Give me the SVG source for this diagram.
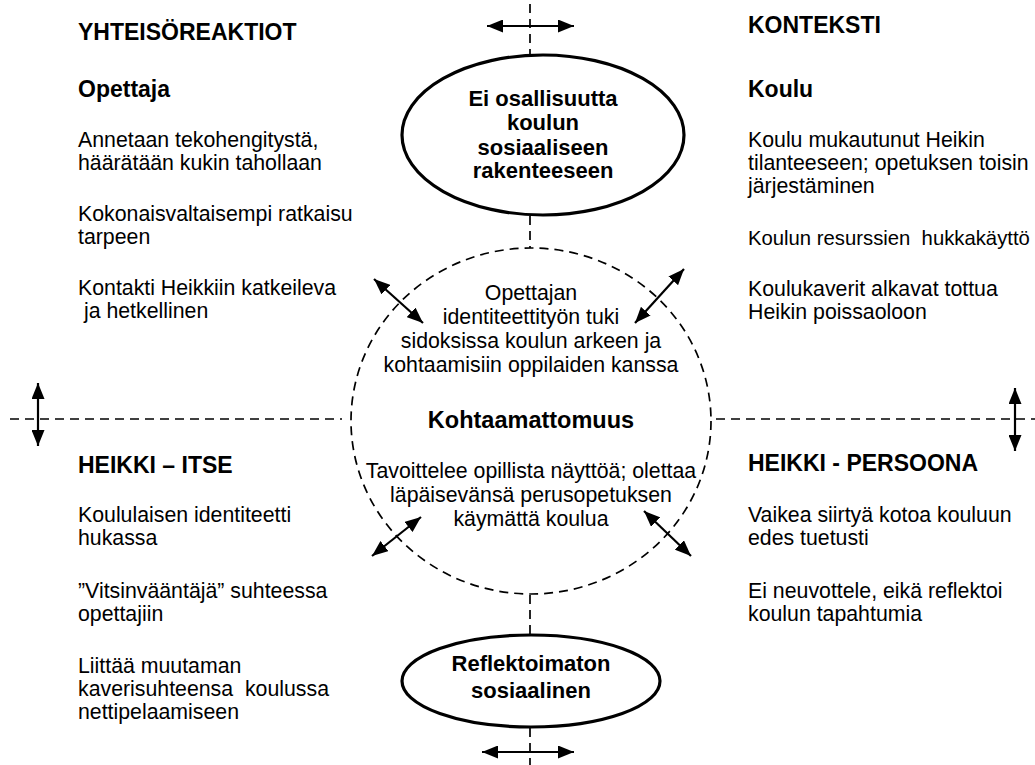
<svg xmlns="http://www.w3.org/2000/svg" width="1035" height="765" viewBox="0 0 1035 765">
<defs>
<marker id="ah" viewBox="0 0 16 13" refX="16" refY="6.5" markerWidth="16" markerHeight="13" markerUnits="userSpaceOnUse" orient="auto-start-reverse">
<path d="M0,0 L16,6.5 L0,13 z" fill="#000"/>
</marker>
<style>
text{font-family:"Liberation Sans",Arial,sans-serif;fill:#000}
.b{font-size:21.3px}
.h{font-size:23px;font-weight:bold}
.c{font-size:21.3px;text-anchor:middle}
.cb{font-size:22px;font-weight:bold;text-anchor:middle}
.dash{fill:none;stroke:#000;stroke-width:1.7;stroke-dasharray:9 6}
.arr{stroke:#000;stroke-width:2.2;fill:none;marker-start:url(#ah);marker-end:url(#ah)}
.ell{fill:#fff;stroke:#000;stroke-width:3.2}
</style>
</defs>
<rect width="1035" height="765" fill="#fff"/>
<g id="connectors">
<line class="dash" x1="530" y1="4" x2="530" y2="55"/>
<line class="dash" x1="530" y1="216" x2="530" y2="248"/>
<line class="dash" x1="530" y1="595" x2="530" y2="635"/>
<line class="dash" x1="530" y1="728" x2="530" y2="765"/>
<line class="dash" x1="10" y1="419" x2="342" y2="419"/>
<line class="dash" x1="716" y1="419" x2="1035" y2="419"/>
<line class="arr" x1="487" y1="26" x2="574" y2="26"/>
<line class="arr" x1="482" y1="752" x2="574" y2="752"/>
<line class="arr" x1="38" y1="383" x2="38" y2="446"/>
<line class="arr" x1="1015" y1="388" x2="1015" y2="451"/>
<line class="arr" x1="374" y1="279" x2="423" y2="323"/>
<line class="arr" x1="684" y1="269" x2="635" y2="323"/>
<line class="arr" x1="421" y1="517" x2="372" y2="556"/>
<line class="arr" x1="644" y1="511" x2="691" y2="556"/>
</g>
<g id="center">
<ellipse class="dash" cx="531" cy="421" rx="180" ry="173"/>
<text class="c" x="531" y="300">Opettajan</text>
<text class="c" x="531" y="324">identiteettityön tuki</text>
<text class="c" x="531" y="348">sidoksissa koulun arkeen ja</text>
<text class="c" x="531" y="372">kohtaamisiin oppilaiden kanssa</text>
<text class="c" x="531" y="428" style="font-weight:bold;font-size:23.5px">Kohtaamattomuus</text>
<text class="c" x="531" y="478">Tavoittelee opillista näyttöä; olettaa</text>
<text class="c" x="531" y="502">läpäisevänsä perusopetuksen</text>
<text class="c" x="531" y="526">käymättä koulua</text>
</g>
<g id="top-node">
<ellipse class="ell" cx="543" cy="135" rx="141" ry="80"/>
<text class="cb" x="543" y="106">Ei osallisuutta</text>
<text class="cb" x="543" y="130">koulun</text>
<text class="cb" x="543" y="155">sosiaaliseen</text>
<text class="cb" x="543" y="178">rakenteeseen</text>
</g>
<g id="bottom-node">
<ellipse class="ell" cx="531" cy="681" rx="129" ry="46"/>
<text class="cb" x="531" y="671">Reflektoimaton</text>
<text class="cb" x="531" y="698">sosiaalinen</text>
</g>
<g id="yhteisoreaktiot">
<text class="h" x="78" y="40">YHTEISÖREAKTIOT</text>
<text class="h" x="78" y="97">Opettaja</text>
<text class="b" x="78" y="147">Annetaan tekohengitystä,</text>
<text class="b" x="78" y="170">häärätään kukin tahollaan</text>
<text class="b" x="78" y="221">Kokonaisvaltaisempi ratkaisu</text>
<text class="b" x="78" y="244">tarpeen</text>
<text class="b" x="78" y="295">Kontakti Heikkiin katkeileva</text>
<text class="b" x="78" y="318" xml:space="preserve"> ja hetkellinen</text>
</g>
<g id="konteksti">
<text class="h" x="748" y="33">KONTEKSTI</text>
<text class="h" x="748" y="97">Koulu</text>
<text class="b" x="748" y="147">Koulu mukautunut Heikin</text>
<text class="b" x="748" y="170">tilanteeseen; opetuksen toisin</text>
<text class="b" x="748" y="193">järjestäminen</text>
<text x="748" y="245" xml:space="preserve" style="font-size:20.3px">Koulun resurssien  hukkakäyttö</text>
<text class="b" x="748" y="296">Koulukaverit alkavat tottua</text>
<text class="b" x="748" y="319">Heikin poissaoloon</text>
</g>
<g id="heikki-itse">
<text class="h" x="78" y="473">HEIKKI – ITSE</text>
<text class="b" x="78" y="522">Koululaisen identiteetti</text>
<text class="b" x="78" y="545">hukassa</text>
<text class="b" x="78" y="598">”Vitsinvääntäjä” suhteessa</text>
<text class="b" x="78" y="621">opettajiin</text>
<text class="b" x="78" y="673">Liittää muutaman</text>
<text class="b" x="78" y="696" xml:space="preserve">kaverisuhteensa  koulussa</text>
<text class="b" x="78" y="719">nettipelaamiseen</text>
</g>
<g id="heikki-persoona">
<text class="h" x="748" y="471">HEIKKI - PERSOONA</text>
<text class="b" x="748" y="522">Vaikea siirtyä kotoa kouluun</text>
<text class="b" x="748" y="545">edes tuetusti</text>
<text class="b" x="748" y="598">Ei neuvottele, eikä reflektoi</text>
<text class="b" x="748" y="621">koulun tapahtumia</text>
</g>
</svg>
